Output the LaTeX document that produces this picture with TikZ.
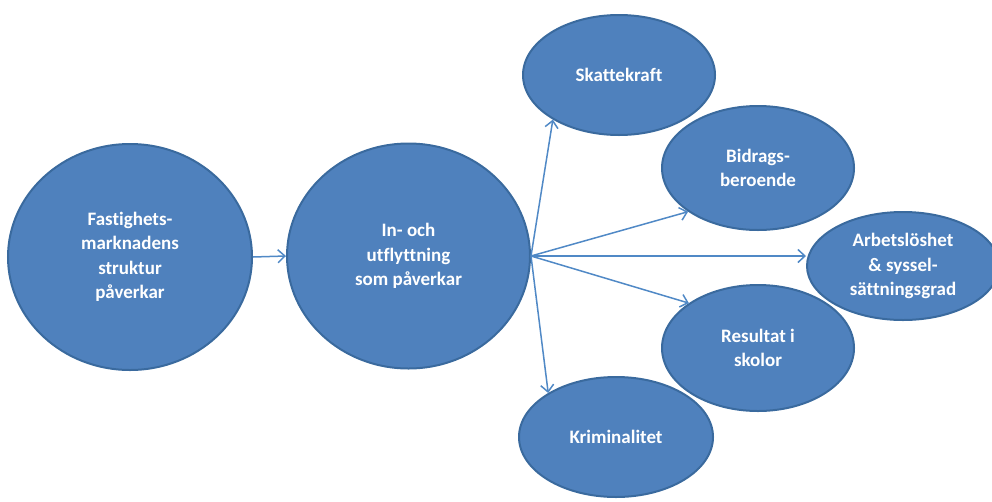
\documentclass[tikz,border=0pt]{standalone}
\usepackage{fontspec}
\setmainfont{Carlito}[Ligatures=NoCommon]
\usetikzlibrary{shapes.geometric,arrows.meta}
\definecolor{bubblefill}{HTML}{4F81BD}
\definecolor{bubbleedge}{HTML}{3A6A9E}
\definecolor{arrowcol}{HTML}{5089C6}
\begin{document}
\begin{tikzpicture}[x=1pt,y=-1pt,
  bubble/.style={ellipse,draw=bubbleedge,line width=2pt,fill=bubblefill,
    inner sep=0pt,text=white,align=center,
    font=\fontsize{19}{24.5}\selectfont\bfseries},
  conn/.style={draw=arrowcol,line width=1.5pt,
    -{Straight Barb[length=7pt,width=13pt,line width=1.5pt]}}]
\useasboundingbox (0,0) rectangle (992,501);
\clip (0,0) rectangle (992,501);
\node[bubble,minimum width=244pt,minimum height=226pt] (fast) at (130,257)
  {Fastighets-\\marknadens\\struktur\\påverkar};
\node[bubble,minimum width=243pt,minimum height=225pt] (mid) at (408.5,256)
  {In- och\\utflyttning\\som påverkar};
\node[bubble,minimum width=192pt,minimum height=120pt] (skatt) at (619,75)
  {Skattekraft};
\node[bubble,minimum width=192pt,minimum height=124pt] (bidr) at (758,168)
  {Bidrags-\\beroende};
\node[bubble,minimum width=192pt,minimum height=108pt] (arb) at (903,266)
  {Arbetslöshet\\\& syssel-\\sättningsgrad};
\node[bubble,minimum width=192pt,minimum height=126pt] (res) at (758,348)
  {Resultat i\\skolor};
\node[bubble,minimum width=194pt,minimum height=120pt] (krim) at (616,437)
  {Kriminalitet};
\coordinate (src) at (mid.east);
\draw[conn] (fast.east) -- (mid.west);
\draw[conn] (src) -- (skatt.214);
\draw[conn] (src) -- (bidr.212);
\draw[conn] (src) -- (src -| arb.west);
\draw[conn] (src) -- (res.147);
\draw[conn] (src) -- (krim.147);
\end{tikzpicture}
\end{document}
